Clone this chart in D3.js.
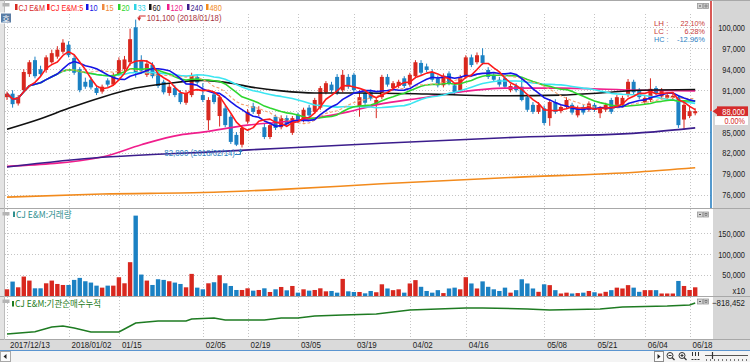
<!DOCTYPE html>
<html>
<head>
<meta charset="utf-8">
<script src="https://cdn.jsdelivr.net/npm/d3@7/dist/d3.min.js"></script>
<style>
  body { margin: 0; background: #fff; overflow: hidden; }
  svg { display: block; }
</style>
</head>
<body>
<div id="chart"></div>
<script>
// CJ E&M daily chart, 2017/12/13 - 2018/06/19

// trading days
const dates = [
  "2017/12/13","2017/12/14","2017/12/15","2017/12/18","2017/12/19","2017/12/20","2017/12/21","2017/12/22","2017/12/26","2017/12/27","2017/12/28",
  "2018/01/02","2018/01/03","2018/01/04","2018/01/05","2018/01/08","2018/01/09","2018/01/10","2018/01/11","2018/01/12","2018/01/15","2018/01/16",
  "2018/01/17","2018/01/18","2018/01/19","2018/01/22","2018/01/23","2018/01/24","2018/01/25","2018/01/26","2018/01/29","2018/01/30","2018/01/31",
  "2018/02/01","2018/02/02","2018/02/05","2018/02/06","2018/02/07","2018/02/08","2018/02/09","2018/02/12","2018/02/13","2018/02/14","2018/02/19",
  "2018/02/20","2018/02/21","2018/02/22","2018/02/23","2018/02/26","2018/02/27","2018/02/28",
  "2018/03/02","2018/03/05","2018/03/06","2018/03/07","2018/03/08","2018/03/09","2018/03/12","2018/03/13","2018/03/14","2018/03/15","2018/03/16",
  "2018/03/19","2018/03/20","2018/03/21","2018/03/22","2018/03/23","2018/03/26","2018/03/27","2018/03/28","2018/03/29","2018/03/30",
  "2018/04/02","2018/04/03","2018/04/04","2018/04/05","2018/04/06","2018/04/09","2018/04/10","2018/04/11","2018/04/12","2018/04/13","2018/04/16",
  "2018/04/17","2018/04/18","2018/04/19","2018/04/20","2018/04/23","2018/04/24","2018/04/25","2018/04/26","2018/04/27","2018/04/30",
  "2018/05/02","2018/05/03","2018/05/04","2018/05/08","2018/05/09","2018/05/10","2018/05/11","2018/05/14","2018/05/15","2018/05/16","2018/05/17",
  "2018/05/18","2018/05/21","2018/05/23","2018/05/24","2018/05/25","2018/05/28","2018/05/29","2018/05/30","2018/05/31",
  "2018/06/01","2018/06/04","2018/06/05","2018/06/07","2018/06/08","2018/06/11","2018/06/12","2018/06/14","2018/06/15","2018/06/18","2018/06/19"
];

const open = [
  90000, 90500, 89100, 91000, 93300, 95300, 94000, 93900, 95000, 95800,
  96500, 97500, 95600, 94000, 92200, 92500, 91300, 90800, 92400, 91800,
  93300, 94000, 95000, 100000, 95200, 93200, 94600, 93400, 92200, 90600,
  91300, 90600, 89200, 90300, 92900, 90300, 86700, 90400, 87300, 88400,
  87200, 84600, 83200, 86500, 88700, 87600, 85700, 84300, 87200, 85700,
  87000, 84900, 87500, 86700, 88500, 87900, 88500, 90700, 91800, 92900,
  91000, 92900, 93200, 88600, 90600, 90800, 89000, 90000, 92900, 91300,
  91600, 92700, 91800, 93000, 94900, 94400, 93600, 92700, 91700, 93400,
  91700, 91000, 92900, 95700, 95000, 96000, 93900, 93200, 92500, 92700,
  91000, 91600, 91500, 90000, 88900, 87900, 88400, 87000, 89300, 88000,
  88600, 88900, 87400, 88600, 88200, 88900, 87700, 88200, 89600, 88900,
  88900, 90300, 92200, 91000, 89300, 89600, 91300, 90100, 89900, 89900,
  90000, 86800, 87300, 87700
];
const high = [
  90800, 91000, 90300, 94000, 95300, 95800, 94500, 96000, 96800, 97300,
  98300, 98000, 96000, 94300, 92800, 92900, 91700, 91800, 92700, 93500,
  95700, 95900, 99800, 101100, 96000, 95300, 95000, 93800, 92500, 91900,
  91700, 91000, 91000, 93500, 93300, 92000, 90000, 90800, 90300, 88800,
  87500, 85000, 86000, 88300, 89200, 88700, 86200, 86400, 87500, 87400,
  87400, 87300, 87800, 88500, 88900, 89900, 91600, 92300, 92200, 93300,
  93900, 93300, 93500, 91000, 91000, 91100, 89900, 93200, 93300, 92300,
  92500, 93000, 93500, 95300, 95300, 94800, 94000, 93100, 93400, 93700,
  92000, 93200, 96000, 96100, 96400, 97000, 94300, 93600, 92900, 93100,
  91900, 92000, 92900, 90400, 89300, 89300, 88800, 89700, 89700, 89000,
  90000, 89200, 88800, 88900, 89400, 89200, 88700, 89200, 89900, 90300,
  90200, 92600, 92500, 91300, 90300, 92700, 91600, 91300, 90600, 90500,
  90300, 89600, 88800, 88400
];
const low = [
  89600, 88500, 88800, 90700, 92900, 92700, 92900, 93500, 94800, 95500,
  96200, 95700, 93200, 90700, 91200, 91100, 90300, 90500, 91500, 91600,
  93000, 93700, 94500, 92800, 93400, 92900, 92700, 91300, 90400, 90200,
  90000, 89000, 88900, 90000, 91800, 89300, 85300, 89000, 85800, 85700,
  83300, 83000, 82800, 86200, 87600, 87300, 84000, 84000, 85300, 85400,
  85900, 84600, 86300, 86400, 87100, 87600, 88200, 90400, 90700, 90300,
  90700, 91200, 90700, 87200, 88900, 89500, 87000, 89700, 91500, 91000,
  91300, 91300, 91500, 92700, 93200, 93600, 92200, 91400, 91400, 91700,
  90300, 90700, 92600, 94300, 94700, 94600, 92600, 92200, 91500, 91200,
  90700, 90700, 89400, 87900, 87600, 87600, 86000, 85900, 87600, 87700,
  88300, 87500, 87100, 87500, 87900, 87900, 87000, 87900, 87600, 88600,
  88600, 90000, 90400, 89700, 89000, 89300, 90300, 89800, 89600, 89500,
  85600, 85300, 87000, 87400
];
const close = [
  90500, 89000, 90000, 93600, 95000, 93000, 93300, 95700, 96300, 96800,
  97800, 96000, 93500, 91000, 91500, 91400, 90600, 91500, 91800, 93200,
  95300, 95400, 98300, 93500, 93800, 94800, 93000, 91600, 90700, 91500,
  90300, 89300, 90600, 93100, 92100, 89600, 89600, 89300, 90000, 86000,
  83600, 83200, 85600, 87900, 87900, 88200, 84300, 86000, 85600, 87000,
  86200, 87000, 86600, 88200, 87400, 89600, 91300, 92000, 91000, 90600,
  93200, 91500, 91000, 90000, 89200, 89800, 89600, 92900, 91800, 92000,
  92200, 91600, 93200, 95000, 93500, 93900, 92500, 91700, 93100, 92000,
  90600, 92900, 95700, 94600, 96000, 94900, 92900, 92500, 91800, 91500,
  91600, 91000, 89600, 88200, 87900, 88900, 86300, 89300, 87900, 88600,
  89600, 87800, 88400, 87800, 89100, 88200, 88400, 88900, 87900, 90000,
  89900, 92200, 90700, 90000, 89900, 91200, 90600, 91000, 90300, 90200,
  86000, 88900, 88000, 88000
];
// volume in units of 10 shares (axis shows "x10")
const volume = [
  16000, 34500, 20800, 46500, 36900, 18400, 18400, 30400, 36900, 28800,
  26400, 26400, 38500, 43300, 35300, 32100, 24800, 20000, 24800, 24800,
  44900, 30400, 80900, 192300, 51300, 36900, 26400, 40100, 38500, 35300,
  32100, 28800, 20800, 52900, 20000, 16000, 30400, 32900, 49700, 30400,
  24000, 14400, 14400, 18400, 12800, 14400, 18400, 9600, 16000, 21600,
  13600, 24000, 8000, 16000, 12800, 14400, 18400, 11200, 12000, 8000,
  40900, 11200, 9600, 9600, 6400, 12000, 9000, 28000, 18000, 14000,
  16000, 8000, 30000, 38000, 22000, 12000, 8000, 14000, 7000, 18000,
  20000, 16000, 45000, 30000, 18000, 35000, 22000, 16000, 12000, 20000,
  8000, 14000, 40000, 30000, 18000, 10000, 28000, 26000, 14000, 6000,
  8000, 6000, 7000, 8000, 12000, 9000, 6000, 10000, 14000, 20000,
  18000, 26000, 20000, 10000, 14000, 14000, 14000, 6000, 6000, 6000,
  36000, 24000, 14400, 20800
];

// long moving averages (bar index -> value)
const ma60Idx  = [0, 6, 11, 17, 23, 29, 35, 40, 44, 49, 55, 63, 75, 87, 99, 106, 113, 123];
const ma60Val  = [85400, 86900, 88400, 90000, 91300, 92000, 92400, 92000, 91400, 90900, 90600, 90600, 90450, 90200, 90300, 90600, 91000, 91100];
const ma120Idx = [0, 17, 24, 31, 35, 43, 49, 55, 61, 66, 75, 81, 89, 99, 113, 123];
const ma120Val = [80100, 81450, 83200, 84600, 85000, 86000, 86450, 87000, 87900, 88900, 90000, 90750, 91300, 91300, 91000, 90900];
const ma240Idx = [0, 17, 26, 35, 49, 67, 89, 115, 123];
const ma240Val = [80000, 81400, 81800, 82100, 82700, 83400, 84200, 85000, 85600];
const ma480Idx = [0, 17, 35, 49, 67, 90, 113, 123];
const ma480Val = [75700, 76150, 76350, 76800, 77600, 78500, 79300, 79900];

// institutional net buying, cumulative (bar index -> value)
const instIdx = [0, 5, 8, 10, 12, 15, 20, 21, 23, 25, 27, 32, 33, 37, 39, 43, 46, 49, 52, 55, 60, 66, 72, 77, 82, 85, 93, 97, 106, 110, 118, 122, 123];
const instVal = [-1686000, -1622000, -1490000, -1462000, -1518000, -1630000, -1630000, -1546000, -1378000, -1350000, -1322000, -1322000,
  -1266000, -1238000, -1294000, -1294000, -1294000, -1238000, -1238000, -1182000, -1154000, -1126000, -1014000, -986000, -958000,
  -958000, -986000, -1014000, -986000, -930000, -902000, -874000, -818452];

const priceTicks = [76000, 79000, 82000, 85000, 88000, 91000, 94000, 97000, 100000];
const volTicks = [50000, 100000, 150000];
const tickDates  = ["2017/12/13","2018/01/02","2018/01/15","2018/02/05","2018/02/19","2018/03/05","2018/03/19","2018/04/02","2018/04/16","2018/05/08","2018/05/21","2018/06/04","2018/06/18"];
const tickLabels = ["2017/12/13","2018/01/02","01/15","02/05","02/19","03/05","03/19","04/02","04/16","05/08","05/21","06/04","06/18"];

const legendLabels = ["CJ E&M", "CJ E&M:5", "10", "15", "20", "33", "60", "120", "240", "480"];

// ---------------------------------------------------------------
const W = 750, H = 362;
const UP = "#D8281F", DOWN = "#1B81C3";
const FONT = "'Liberation Sans', Arial, sans-serif";
const KFONT = "'Noto Sans CJK KR', 'Liberation Sans', sans-serif";
const fmt = d3.format(",");

const maStyle = {
  5:   { color: "#FF1A1A", w: 1.6 },
  10:  { color: "#1414E6", w: 1.6 },
  15:  { color: "#F5A070", w: 1.1, dash: "3,2" },
  20:  { color: "#2ED62E", w: 1.6 },
  33:  { color: "#3CE6F2", w: 1.6 },
  60:  { color: "#111111", w: 1.6 },
  120: { color: "#F01E8C", w: 1.6 },
  240: { color: "#3B1D8C", w: 1.6 },
  480: { color: "#F28A1C", w: 1.6 }
};
const legendColors = [UP, "#FF1A1A", "#1414E6", "#F08A40", "#2ED62E", "#2FD4E6", "#111111", "#F01E8C", "#3B1D8C", "#F28A1C"];
const legendX = [15, 47, 86, 102, 118, 134, 149, 167, 187, 206];

// width of the narrow HTS pixel font, used as textLength
function tw(s) {
  let w = 0;
  for (const c of s) {
    if (/[0-9]/.test(c)) w += 4.1;
    else if (c === "," || c === "." || c === ":") w += 2.2;
    else if (c === "/" || c === "-") w += 3.5;
    else if (c === "%") w += 6;
    else if (c === " ") w += 3;
    else if (c === "(" || c === ")") w += 2.6;
    else if (c === "&") w += 5;
    else if (/[A-Z]/.test(c)) w += 4.6;
    else if (/[a-z]/.test(c)) w += 4;
    else w += 9;
  }
  return w;
}
function txt(g, s, x, y, o = {}) {
  return g.append("text")
    .attr("x", x).attr("y", y)
    .attr("font-family", o.font || FONT)
    .attr("font-size", o.size || 9)
    .attr("fill", o.color || "#222")
    .attr("text-anchor", o.anchor || "start")
    .attr("textLength", o.len || tw(s))
    .attr("lengthAdjust", "spacingAndGlyphs")
    .text(s);
}

const svg = d3.select("#chart").append("svg").attr("width", W).attr("height", H);

// scales
const x  = d3.scaleLinear().domain([0, dates.length - 1]).range([7, 695.2]);
const y  = d3.scaleLinear().domain([76000, 100000]).range([195, 27.3]);
const yv = d3.scaleLinear().domain([0, 150000]).range([296, 233.3]);
const yi = d3.scaleLinear().domain(d3.extent(instVal)).range([334, 303]);

// frame
svg.append("rect").attr("width", W).attr("height", H).attr("fill", "#fff");
svg.append("rect").attr("x", 0).attr("y", 0).attr("width", 5).attr("height", 340).attr("fill", "#E4E4E4");
svg.append("rect").attr("x", 713).attr("y", 0).attr("width", 37).attr("height", 340).attr("fill", "#D6D6D6");
svg.append("rect").attr("x", 0).attr("y", 339.5).attr("width", W).attr("height", 11).attr("fill", "#DADADA");
svg.append("rect").attr("x", 0).attr("y", 350.5).attr("width", W).attr("height", 11.5).attr("fill", "#F4F4F4");
svg.append("line").attr("x1", 0).attr("x2", W).attr("y1", 350.5).attr("y2", 350.5).attr("stroke", "#5B95D0");
[0.5, 208.5, 296.5, 339.5].forEach(v => {
  svg.append("line").attr("x1", 0).attr("x2", W).attr("y1", v).attr("y2", v).attr("stroke", "#A8A8A8");
});
svg.append("line").attr("x1", 4.5).attr("x2", 4.5).attr("y1", 0).attr("y2", 340).attr("stroke", "#BDBDBD");

// grid
const grid = svg.append("g").attr("stroke", "#C4C4C4").attr("stroke-dasharray", "1,2");
priceTicks.forEach(v => {
  grid.append("line").attr("x1", 5).attr("x2", 711).attr("y1", Math.round(y(v)) + 0.5).attr("y2", Math.round(y(v)) + 0.5);
});
volTicks.forEach(v => {
  grid.append("line").attr("x1", 5).attr("x2", 711).attr("y1", Math.round(yv(v)) + 0.5).attr("y2", Math.round(yv(v)) + 0.5);
});
tickDates.forEach(dt => {
  const xx = Math.round(x(dates.indexOf(dt))) + 0.5;
  [[14, 208], [209, 296], [297, 339]].forEach(([a, b]) => {
    grid.append("line").attr("x1", xx).attr("x2", xx).attr("y1", a).attr("y2", b);
  });
});

// price panel
const pricePanel = svg.append("g");
svg.append("clipPath").attr("id", "pclip").append("rect").attr("x", 5).attr("y", 1).attr("width", 706).attr("height", 207);
pricePanel.attr("clip-path", "url(#pclip)");

const candles = pricePanel.selectAll("g.candle").data(dates.map((d, i) => i)).join("g")
  .attr("fill", i => close[i] >= open[i] ? UP : DOWN)
  .attr("stroke", i => close[i] >= open[i] ? UP : DOWN);
candles.append("line")
  .attr("x1", i => x(i)).attr("x2", i => x(i))
  .attr("y1", i => y(high[i])).attr("y2", i => y(low[i]))
  .attr("stroke-width", 1);
candles.append("rect")
  .attr("x", i => x(i) - 2).attr("width", 4)
  .attr("y", i => y(Math.max(open[i], close[i])))
  .attr("height", i => Math.max(1, Math.abs(y(open[i]) - y(close[i]))))
  .attr("stroke", "none");

function movingAverage(values, n) {
  return values.map((v, i) => [i, d3.mean(values.slice(Math.max(0, i - n + 1), i + 1))]);
}
const smooth = d3.line().x(d => x(d[0])).y(d => y(d[1])).curve(d3.curveMonotoneX);
const straight = d3.line().x(d => x(d[0])).y(d => y(d[1]));

function drawMA(data, key, gen) {
  const s = maStyle[key];
  pricePanel.append("path").datum(data).attr("d", gen)
    .attr("fill", "none").attr("stroke", s.color).attr("stroke-width", s.w)
    .attr("stroke-dasharray", s.dash || null).attr("stroke-linejoin", "round");
}
drawMA(ma480Idx.map((d, i) => [d, ma480Val[i]]), 480, smooth);
drawMA(ma120Idx.map((d, i) => [d, ma120Val[i]]), 120, smooth);
drawMA(ma240Idx.map((d, i) => [d, ma240Val[i]]), 240, smooth);
drawMA(ma60Idx.map((d, i) => [d, ma60Val[i]]), 60, smooth);
drawMA(movingAverage(close, 33), 33, straight);
drawMA(movingAverage(close, 20), 20, straight);
drawMA(movingAverage(close, 15), 15, straight);
drawMA(movingAverage(close, 10), 10, straight);
drawMA(movingAverage(close, 5), 5, straight);

// high / low marks
const hi = d3.maxIndex(high), lo = d3.minIndex(low);
const hx = x(hi), lx = x(lo);
pricePanel.append("path").attr("d", `M${hx + 10},16H${hx + 3.5}V18`).attr("fill", "none").attr("stroke", "#D02828");
pricePanel.append("path").attr("d", `M${hx + 1.5},17.5L${hx + 5.5},17.5L${hx + 3.5},21Z`).attr("fill", "#D02828");
txt(pricePanel, `${fmt(high[hi])} (${dates[hi]})`, hx + 11, 20.5, { color: "#A8343F", size: 8.5 });

const ly = y(low[lo]);
pricePanel.append("path").attr("d", `M${lx - 7},154.5H${lx - 1.5}V${ly + 4}`).attr("fill", "none").attr("stroke", "#2F7FC0");
pricePanel.append("path").attr("d", `M${lx - 3.5},${ly + 4.5}L${lx + 0.5},${ly + 4.5}L${lx - 1.5},${ly + 1}Z`).attr("fill", "#2F7FC0");
txt(pricePanel, `${fmt(low[lo])} (${dates[lo]})`, lx - 7, 156, { color: "#2F7FC0", anchor: "end", size: 9 });

// LH / LC / HC box
const last = close[close.length - 1];
const pct = v => (v * 100).toFixed(2) + "%";
const lh = (high[hi] - low[lo]) / low[lo], lc = (last - low[lo]) / low[lo], hc = (last - high[hi]) / high[hi];
[["LH", lh, "#C83A3A", 25.5], ["LC", lc, "#C83A3A", 33.5], ["HC", hc, "#2F82C4", 41.5]].forEach(([k, v, c, yy]) => {
  txt(svg, k + " :", 654, yy, { color: c, size: 7 });
  txt(svg, pct(v), 705, yy, { color: c, size: 7, anchor: "end" });
});

// right edge marker (red above current price, blue below)
svg.append("line").attr("x1", 711).attr("x2", 711).attr("y1", 1).attr("y2", y(last)).attr("stroke", "#D0302C").attr("stroke-width", 1.6);
svg.append("line").attr("x1", 711).attr("x2", 711).attr("y1", y(last)).attr("y2", 208).attr("stroke", "#2A80C2").attr("stroke-width", 1.6);

// price axis
const AX = 745;
const pAxis = svg.append("g").attr("transform", `translate(${AX},0)`)
  .call(d3.axisRight(y).tickValues(priceTicks).tickSize(0).tickPadding(0).tickFormat(fmt));
pAxis.select(".domain").remove();
pAxis.attr("font-family", FONT).attr("font-size", 9);
pAxis.selectAll("text").attr("text-anchor", "end").attr("fill", "#222")
  .each(function () { d3.select(this).attr("textLength", tw(this.textContent)).attr("lengthAdjust", "spacingAndGlyphs"); });

// current price tag
const cy = y(last);
svg.append("rect").attr("x", 715).attr("y", cy + 5.2).attr("width", 33).attr("height", 8.6).attr("fill", "#fff");
svg.append("rect").attr("x", 717).attr("y", cy - 4.8).attr("width", 31).attr("height", 9.6).attr("fill", "#D52B2B");
svg.append("path").attr("d", `M712.5,${cy}L717.5,${cy - 3.5}L717.5,${cy + 3.5}Z`).attr("fill", "#D52B2B");
txt(svg, fmt(last), AX, cy + 3.4, { color: "#fff", anchor: "end", size: 9 });
const chg = (last - close[close.length - 2]) / close[close.length - 2];
txt(svg, pct(chg), AX, cy + 12.6, { color: "#D52B2B", anchor: "end", size: 9 });

// volume panel
svg.append("g").selectAll("rect").data(volume).join("rect")
  .attr("x", (d, i) => x(i) - 2.2).attr("width", 4.4)
  .attr("y", d => yv(d)).attr("height", d => yv(0) - yv(d))
  .attr("fill", (d, i) => close[i] >= open[i] ? UP : DOWN);
const vAxis = svg.append("g").attr("transform", `translate(${AX},0)`)
  .call(d3.axisRight(yv).tickValues(volTicks).tickSize(0).tickPadding(0).tickFormat(fmt));
vAxis.select(".domain").remove();
vAxis.attr("font-family", FONT).attr("font-size", 9);
vAxis.selectAll("text").attr("text-anchor", "end").attr("fill", "#222")
  .each(function () { d3.select(this).attr("textLength", tw(this.textContent)).attr("lengthAdjust", "spacingAndGlyphs"); });
txt(svg, "x10", AX, 294, { anchor: "end", len: 12.5 });

// institutional cumulative panel
svg.append("path").datum(instIdx.map((d, i) => [d, instVal[i]]))
  .attr("d", d3.line().x(d => x(d[0])).y(d => yi(d[1])))
  .attr("fill", "none").attr("stroke", "#1E7B22").attr("stroke-width", 1.5);
txt(svg, fmt(instVal[instVal.length - 1]), AX, yi(instVal[instVal.length - 1]) + 3, { anchor: "end", len: 33 });

// date axis
const xAxis = svg.append("g").attr("transform", "translate(0,340)")
  .call(d3.axisBottom(x).tickValues(tickDates.map(d => dates.indexOf(d))).tickSize(0).tickFormat((d, i) => tickLabels[i]));
xAxis.select(".domain").remove();
xAxis.attr("font-family", FONT).attr("font-size", 9.5);
xAxis.selectAll("text").attr("text-anchor", "start").attr("x", 2.5).attr("y", 7.6).attr("dy", 0).attr("fill", "#222")
  .each(function () { d3.select(this).attr("textLength", tw(this.textContent)).attr("lengthAdjust", "spacingAndGlyphs"); });

// legend
legendLabels.forEach((s, i) => {
  svg.append("rect").attr("x", legendX[i]).attr("y", 4).attr("width", 2.5).attr("height", 6).attr("fill", legendColors[i]);
  txt(svg, s, legendX[i] + 3.5, 10.5, { color: legendColors[i], size: 8.5 });
});

// panel titles
svg.append("rect").attr("x", 13).attr("y", 211.5).attr("width", 2).attr("height", 5.5).attr("fill", "#2F8F8F");
txt(svg, "CJ E&M:거래량", 16, 217.5, { color: "#2F8F8F", font: KFONT, size: 9 });
svg.append("rect").attr("x", 12).attr("y", 301).attr("width", 2).attr("height", 5.5).attr("fill", "#1E7B22");
txt(svg, "CJ E&M:기관순매수누적", 15, 307, { color: "#1E7B22", font: KFONT, size: 9, len: 86 });

// small chrome: panel icons and buttons
[[2.5, 3], [2.5, 212], [2.5, 299.5]].forEach(([a, b]) => {
  svg.append("rect").attr("x", a).attr("y", b).attr("width", 7).attr("height", 3.5).attr("fill", "#B4B4B4");
});
[3, 211.5, 298.5].forEach(b => {
  [697, 703].forEach((a, k) => {
    svg.append("rect").attr("x", a + 0.5).attr("y", b + 0.5).attr("width", 5).attr("height", 5)
      .attr("fill", "#D4D4D4").attr("stroke", "#9A9A9A").attr("stroke-width", 0.8);
    if (k === 0) svg.append("line").attr("x1", a + 2).attr("x2", a + 4).attr("y1", b + 3).attr("y2", b + 3).attr("stroke", "#555");
    else svg.append("rect").attr("x", a + 2).attr("y", b + 2).attr("width", 2).attr("height", 2).attr("fill", "none").attr("stroke", "#555").attr("stroke-width", 0.6);
  });
});
// quote button
svg.append("rect").attr("x", 0.5).attr("y", 13).attr("width", 11).attr("height", 10).attr("fill", "#5A7DA5").attr("stroke", "#fff");
txt(svg, "호", 6, 21.5, { color: "#fff", font: KFONT, size: 8.5, anchor: "middle", len: 7.5 });

// bottom bar controls
svg.append("rect").attr("x", 0.5).attr("y", 351.5).attr("width", 10).attr("height", 10).attr("fill", "#FAFAFA").attr("stroke", "#A8A8A8");
svg.append("path").attr("d", "M3.5,356.5L6.5,354L6.5,359Z").attr("fill", "#222");
svg.append("rect").attr("x", 654.5).attr("y", 351.5).attr("width", 9).attr("height", 10).attr("fill", "#FAFAFA").attr("stroke", "#8C8C8C");
svg.append("path").attr("d", "M657.5,354L660.5,356.5L657.5,359Z").attr("fill", "#222");
[[670, "-"], [682, "+"]].forEach(([cx, s]) => {
  svg.append("circle").attr("cx", cx).attr("cy", 355.5).attr("r", 3).attr("fill", "none").attr("stroke", "#333");
  svg.append("line").attr("x1", cx + 2).attr("y1", 357.5).attr("x2", cx + 4.5).attr("y2", 360).attr("stroke", "#333").attr("stroke-width", 1.3);
  svg.append("line").attr("x1", cx - 1.5).attr("x2", cx + 1.5).attr("y1", 355.5).attr("y2", 355.5).attr("stroke", "#333");
  if (s === "+") svg.append("line").attr("x1", cx).attr("x2", cx).attr("y1", 354).attr("y2", 357).attr("stroke", "#333");
});
[692.5, 695.5, 698.5].forEach(a => {
  svg.append("line").attr("x1", a).attr("x2", a).attr("y1", 352).attr("y2", 356).attr("stroke", "#333");
  svg.append("line").attr("x1", a - 1).attr("x2", a + 1).attr("y1", 359.5).attr("y2", 359.5).attr("stroke", "#333");
});
svg.append("line").attr("x1", 705).attr("x2", 748).attr("y1", 355.5).attr("y2", 355.5).attr("stroke", "#555");
svg.append("line").attr("x1", 712.5).attr("x2", 712.5).attr("y1", 352).attr("y2", 359).attr("stroke", "#333").attr("stroke-width", 1.2);
d3.range(706, 748, 4).forEach(a => {
  svg.append("line").attr("x1", a + 0.5).attr("x2", a + 0.5).attr("y1", 359).attr("y2", 361).attr("stroke", "#777");
});
</script>
</body>
</html>
